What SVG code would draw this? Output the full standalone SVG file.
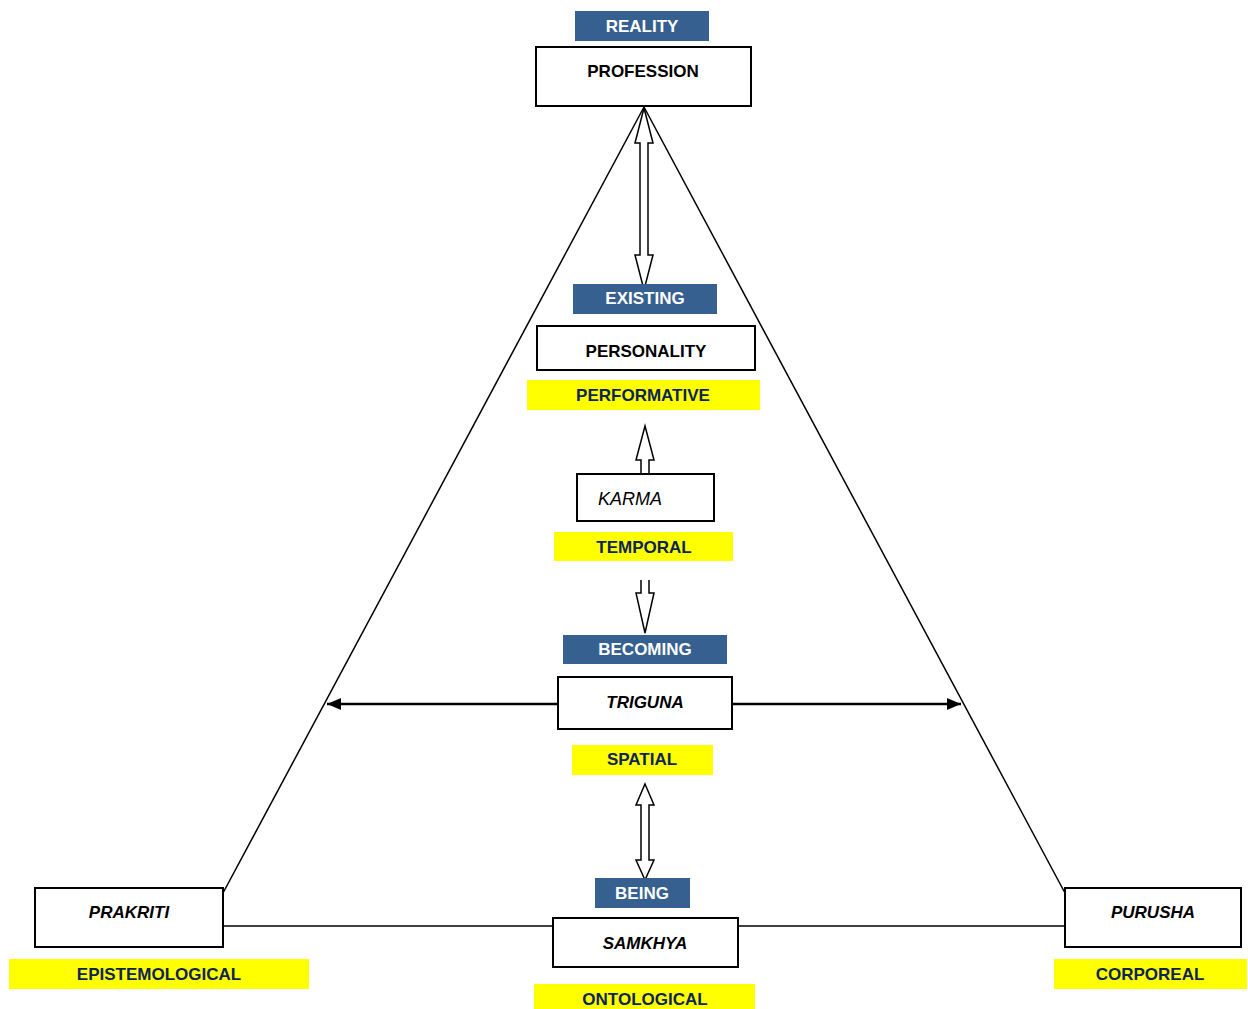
<svg xmlns="http://www.w3.org/2000/svg" width="1248" height="1009" viewBox="0 0 1248 1009">
<style>
.box{fill:#fff;stroke:#000;stroke-width:2}
.blue{fill:#36608F}
.yel{fill:#FFFF00}
.t{font-family:"Liberation Sans",Arial,sans-serif;font-size:17px;font-weight:bold;text-anchor:middle}
.w{fill:#fff}
.k{fill:#000}
.n{fill:#0C2458}
.i{font-style:italic}
.line{stroke:#000;stroke-width:1.5;fill:none}
.hollow{fill:#fff;stroke:#000;stroke-width:1.5;stroke-linejoin:miter}
</style>
<defs>
<marker id="ah" viewBox="0 0 14 12" refX="14" refY="6" markerWidth="14" markerHeight="12" markerUnits="userSpaceOnUse" orient="auto">
<path d="M0,0 L14,6 L0,12 Z" fill="#000"/>
</marker>
</defs>
<g id="connectors">
<line class="line" x1="644" y1="107" x2="223" y2="893"/>
<line class="line" x1="644" y1="107" x2="1065" y2="893"/>
<line class="line" x1="223" y1="926" x2="553" y2="926"/>
<line class="line" x1="738" y1="926" x2="1065" y2="926"/>
<line x1="558" y1="704" x2="327" y2="704" stroke="#000" stroke-width="2.5" marker-end="url(#ah)"/>
<line x1="732" y1="704" x2="961" y2="704" stroke="#000" stroke-width="2.5" marker-end="url(#ah)"/>
<polygon class="hollow" points="644,108 653,143 648,143 648,255 653,255 644,290 635,255 640,255 640,143 635,143"/>
<path class="hollow" d="M641,474 L641,460 L636,460 L645,426 L654,460 L649,460 L649,474"/>
<path class="hollow" d="M641,580 L641,593 L636,593 L645,633 L654,593 L649,593 L649,580"/>
<polygon class="hollow" points="645,784 654,805 649,805 649,860 654,860 645,880 636,860 641,860 641,805 636,805"/>
</g>
<g id="reality"><rect class="blue" x="575" y="11" width="134" height="30"/><text class="t w" x="642" y="32">REALITY</text></g>
<g id="profession"><rect class="box" x="536" y="47" width="215" height="59"/><text class="t k" x="643" y="77">PROFESSION</text></g>
<g id="existing"><rect class="blue" x="573" y="284" width="144" height="30"/><text class="t w" x="645" y="304">EXISTING</text></g>
<g id="personality"><rect class="box" x="537" y="326" width="218" height="44"/><text class="t k" x="646" y="357">PERSONALITY</text></g>
<g id="performative"><rect class="yel" x="527" y="380" width="233" height="30"/><text class="t n" x="643" y="401">PERFORMATIVE</text></g>
<g id="karma"><rect class="box" x="577" y="474" width="137" height="47"/><text class="t k i" x="598" y="505" style="font-weight:normal;text-anchor:start;font-size:18px">KARMA</text></g>
<g id="temporal"><rect class="yel" x="554" y="532" width="179" height="29"/><text class="t n" x="644" y="553">TEMPORAL</text></g>
<g id="becoming"><rect class="blue" x="563" y="635" width="164" height="29"/><text class="t w" x="645" y="655">BECOMING</text></g>
<g id="triguna"><rect class="box" x="558" y="677" width="174" height="52"/><text class="t k i" x="645" y="708">TRIGUNA</text></g>
<g id="spatial"><rect class="yel" x="572" y="745" width="141" height="30"/><text class="t n" x="642" y="765">SPATIAL</text></g>
<g id="being"><rect class="blue" x="595" y="878" width="95" height="30"/><text class="t w" x="642" y="899">BEING</text></g>
<g id="samkhya"><rect class="box" x="553" y="918" width="185" height="49"/><text class="t k i" x="645" y="949">SAMKHYA</text></g>
<g id="ontological"><rect class="yel" x="534" y="984" width="221" height="25"/><text class="t n" x="645" y="1005">ONTOLOGICAL</text></g>
<g id="prakriti"><rect class="box" x="35" y="888" width="188" height="59"/><text class="t k i" x="129" y="918">PRAKRITI</text></g>
<g id="epistemological"><rect class="yel" x="9" y="959" width="300" height="30"/><text class="t n" x="159" y="980">EPISTEMOLOGICAL</text></g>
<g id="purusha"><rect class="box" x="1065" y="888" width="176" height="59"/><text class="t k i" x="1153" y="918">PURUSHA</text></g>
<g id="corporeal"><rect class="yel" x="1054" y="959" width="193" height="30"/><text class="t n" x="1150" y="980">CORPOREAL</text></g>
</svg>
